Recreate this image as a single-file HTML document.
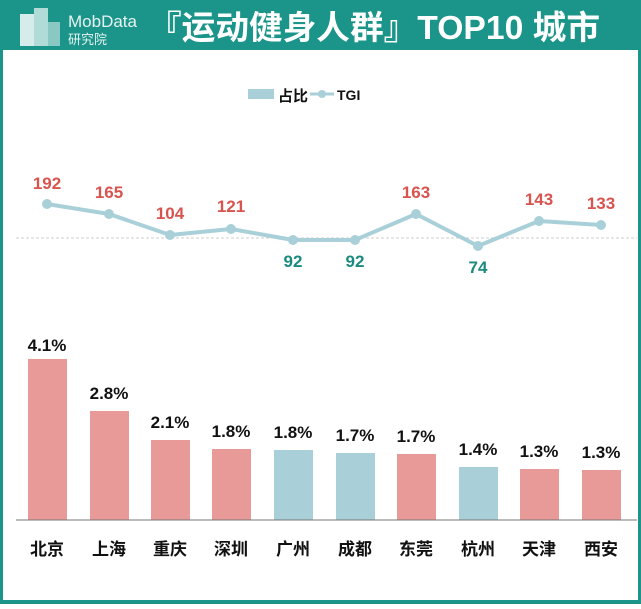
<!DOCTYPE html>
<html><head><meta charset="utf-8"><style>
body{margin:0;width:641px;height:604px;overflow:hidden;background:#fff;font-family:"Liberation Sans","Noto Sans CJK SC",sans-serif}
</style></head><body>
<svg width="641" height="604" xmlns="http://www.w3.org/2000/svg" font-family="Liberation Sans, Noto Sans CJK SC, sans-serif">
<rect x="0" y="0" width="641" height="604" fill="#1b948a"/>
<rect x="3" y="50" width="635" height="550" fill="#fff"/>
<g fill="#d6ecea"><rect x="20" y="14" width="14" height="32"/><rect x="34" y="8" width="14" height="38" opacity="0.8"/><rect x="48" y="22" width="12" height="24" opacity="0.6"/></g>
<text x="68" y="27" font-size="17" fill="#e6f3f1">MobData</text>
<text x="68" y="44" font-size="13" fill="#e6f3f1">研究院</text>
<text x="148" y="39" font-size="33" font-weight="bold" fill="#fff" textLength="452" lengthAdjust="spacingAndGlyphs">『运动健身人群』TOP10 城市</text>
<rect x="248" y="89" width="26" height="10" fill="#a9d0d9"/>
<text x="278" y="101" font-size="15" font-weight="bold" fill="#111">占比</text>
<line x1="310" y1="94" x2="334" y2="94" stroke="#a9d0d9" stroke-width="3"/><circle cx="322" cy="94" r="4" fill="#a9d0d9"/>
<text x="337" y="100" font-size="14" font-weight="bold" fill="#111">TGI</text>
<line x1="16" y1="238" x2="637" y2="238" stroke="#ccc" stroke-dasharray="3,2" stroke-width="1"/>
<polyline points="47,204 109,214 170,235 231,229 293,240 355,240 416,214 478,246 539,221 601,225" fill="none" stroke="#a9d0d9" stroke-width="4" stroke-linejoin="round"/>
<g fill="#a9d0d9"><circle cx="47" cy="204" r="5"/><circle cx="109" cy="214" r="5"/><circle cx="170" cy="235" r="5"/><circle cx="231" cy="229" r="5"/><circle cx="293" cy="240" r="5"/><circle cx="355" cy="240" r="5"/><circle cx="416" cy="214" r="5"/><circle cx="478" cy="246" r="5"/><circle cx="539" cy="221" r="5"/><circle cx="601" cy="225" r="5"/></g>
<g font-size="17" font-weight="bold" text-anchor="middle" fill="#d9534f">
<text x="47" y="189">192</text><text x="109" y="198">165</text><text x="170" y="219">104</text><text x="231" y="212">121</text><text x="416" y="198">163</text><text x="539" y="205">143</text><text x="601" y="209">133</text></g>
<g font-size="17" font-weight="bold" text-anchor="middle" fill="#1b8a80">
<text x="293" y="267">92</text><text x="355" y="267">92</text><text x="478" y="273">74</text></g>
<g fill="#e79a97">
<rect x="28" y="359" width="39" height="161"/><rect x="90" y="411" width="39" height="109"/><rect x="151" y="440" width="39" height="80"/><rect x="212" y="449" width="39" height="71"/><rect x="397" y="454" width="39" height="66"/><rect x="520" y="469" width="39" height="51"/><rect x="582" y="470" width="39" height="50"/></g>
<g fill="#a9d0d9"><rect x="274" y="450" width="39" height="70"/><rect x="336" y="453" width="39" height="67"/><rect x="459" y="467" width="39" height="53"/></g>
<line x1="16" y1="520" x2="637" y2="520" stroke="#777" stroke-width="1"/>
<g font-size="17" font-weight="bold" text-anchor="middle" fill="#111">
<text x="47" y="351">4.1%</text><text x="109" y="399">2.8%</text><text x="170" y="428">2.1%</text><text x="231" y="437">1.8%</text><text x="293" y="438">1.8%</text><text x="355" y="441">1.7%</text><text x="416" y="442">1.7%</text><text x="478" y="455">1.4%</text><text x="539" y="457">1.3%</text><text x="601" y="458">1.3%</text></g>
<g font-size="17" font-weight="bold" text-anchor="middle" fill="#111">
<text x="47" y="555">北京</text><text x="109" y="555">上海</text><text x="170" y="555">重庆</text><text x="231" y="555">深圳</text><text x="293" y="555">广州</text><text x="355" y="555">成都</text><text x="416" y="555">东莞</text><text x="478" y="555">杭州</text><text x="539" y="555">天津</text><text x="601" y="555">西安</text></g>
</svg>
</body></html>
